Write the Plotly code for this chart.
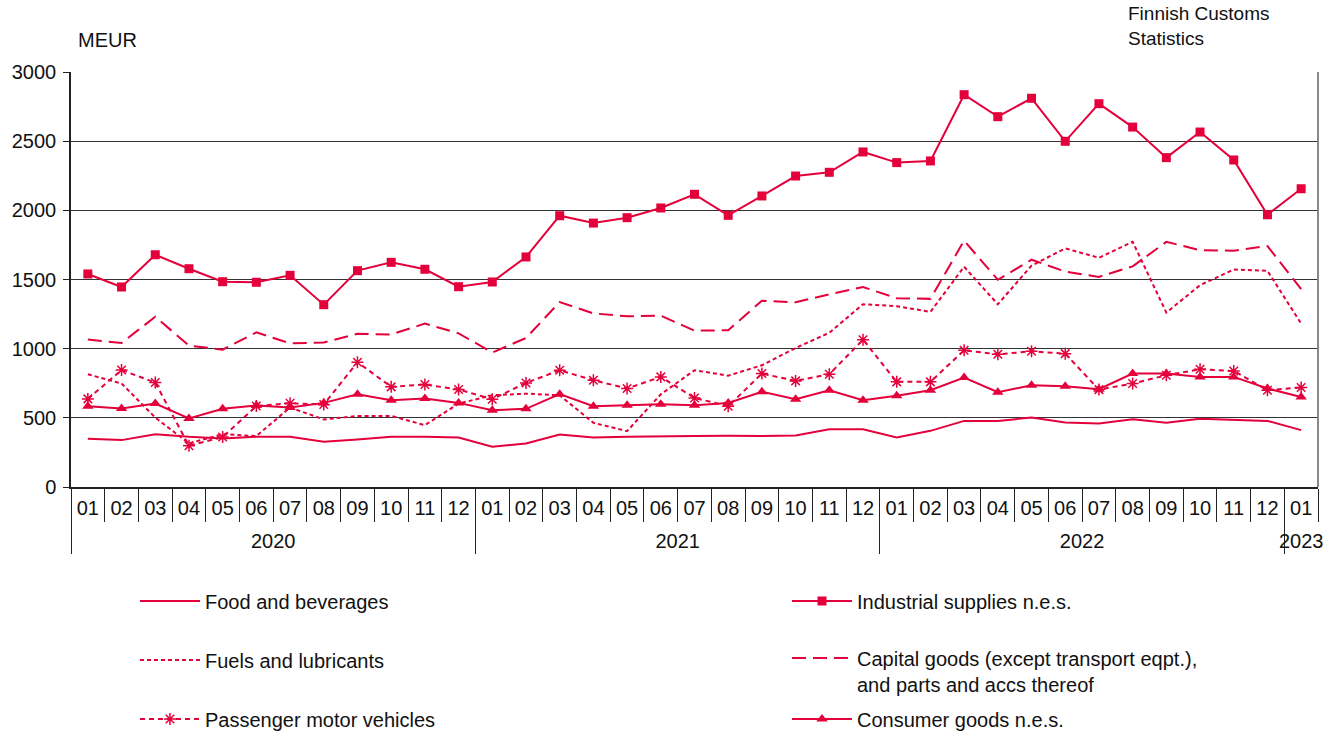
import plotly.graph_objects as go

months = ['01','02','03','04','05','06','07','08','09','10','11','12'] * 3 + ['01']
years = ['2020', '2021', '2022', '2023']
months_per_year = [12, 12, 12, 1]

food = [349,339,382,363,351,363,363,327,344,363,363,358,
        291,315,380,358,363,363,368,370,368,373,418,418,
        358,406,478,478,502,466,459,490,464,493,483,478,
        411]
industrial = [1540,1446,1679,1578,1484,1480,1530,1318,1564,1624,1574,1448,
              1482,1663,1961,1908,1947,2017,2116,1964,2104,2248,2275,2422,
              2345,2357,2836,2677,2810,2499,2771,2602,2381,2566,2364,1968,
              2156]
fuels = [815,748,502,315,382,368,575,488,514,514,447,603,
         663,675,663,464,404,670,844,805,880,1005,1115,1321,
         1307,1266,1592,1321,1600,1725,1657,1773,1261,1459,1572,1563,
         1181]
capital = [1066,1041,1231,1022,993,1118,1038,1044,1107,1103,1181,1111,
           972,1077,1337,1255,1234,1238,1130,1133,1347,1335,1393,1446,
           1365,1360,1781,1498,1643,1557,1519,1595,1772,1712,1708,1742,
           1430]
passenger = [637,846,755,298,361,585,605,596,902,724,741,705,
             635,752,844,772,712,796,644,584,820,767,815,1065,
             760,760,988,959,981,964,704,748,808,851,839,700,
             719]
consumer = [584,567,603,495,565,589,575,608,671,627,639,608,
            555,565,671,584,591,599,591,608,688,635,700,627,
            659,700,791,685,736,728,707,820,820,796,796,712,
            651]

names = ['Food and beverages', 'Industrial supplies n.e.s.', 'Fuels and lubricants',
         'Capital goods (except transport eqpt.),<br>and parts and accs thereof',
         'Passenger motor vehicles', 'Consumer goods n.e.s.']

RED = '#E4003A'
FONT = 'Liberation Sans, Arial, sans-serif'
FS = 20
TXT = '#111'

n = len(months)
xs = list(range(n))

starts = [sum(months_per_year[:i]) for i in range(len(months_per_year))]
year_centers = [s + (c - 1) / 2 for s, c in zip(starts, months_per_year)]
year_bounds = [s - 0.5 for s in starts]
month_bounds = [i - 0.5 for i in range(n + 1)]

series = [
    (food, 'solid', None, 'legend'),
    (industrial, 'solid', dict(symbol='square', size=9), 'legend2'),
    (fuels, '4px,3px', None, 'legend3'),
    (capital, '14px,7px', None, 'legend4'),
    (passenger, '5px,4px', dict(symbol='asterisk-open', size=10, line=dict(width=1.5, color=RED)), 'legend5'),
    (consumer, 'solid', dict(symbol='triangle-up', size=10), 'legend6'),
]

fig = go.Figure()
for (vals, dash, mk, lg), nm in zip(series, names):
    kw = dict(x=xs, y=vals, name=nm, legend=lg,
              line=dict(color=RED, width=2, dash=dash))
    if mk is None:
        kw['mode'] = 'lines'
    else:
        kw['mode'] = 'lines+markers'
        m = dict(color=RED)
        m.update(mk)
        kw['marker'] = m
    fig.add_trace(go.Scatter(**kw))

# empty helper trace so the year axis is drawn
fig.add_trace(go.Scatter(x=xs, y=[None] * n, xaxis='x2', mode='lines', showlegend=False,
                         hoverinfo='skip'))

L, R, T, B = 71, 17, 72, 246
W, H = 1335, 733
pw, ph = W - L - R, H - T - B

def px_to_paper_x(p):
    return (p - L) / pw

def px_to_paper_y(p):
    return 1 - (p - T) / ph

legend_pos = [(135, 601), (787, 601), (135, 660), (787, 671), (135, 719), (787, 719)]
legend_keys = ['legend', 'legend2', 'legend3', 'legend4', 'legend5', 'legend6']
legends = {}
for key, (lx, ly) in zip(legend_keys, legend_pos):
    legends[key] = dict(x=px_to_paper_x(lx), y=px_to_paper_y(ly), xanchor='left', yanchor='middle',
                        font=dict(family=FONT, size=FS, color=TXT), itemwidth=60,
                        valign='top',
                        bgcolor='rgba(0,0,0,0)', borderwidth=0, itemclick=False, itemdoubleclick=False)

xr = [-0.5, n - 0.5]
common_x = dict(range=xr, showgrid=False, zeroline=False, fixedrange=True)

fig.update_layout(
    width=W, height=H,
    margin=dict(l=L, r=R, t=T, b=B, pad=0, autoexpand=False),
    paper_bgcolor='white', plot_bgcolor='white',
    font=dict(family=FONT, size=FS, color=TXT),
    showlegend=True,
    hovermode=False,
    **legends,
    xaxis=dict(**common_x, showline=True, linecolor='#222', linewidth=1.5,
               tickmode='array', tickvals=xs, ticktext=months, ticks='',
               minor=dict(tickmode='array', tickvals=month_bounds, ticks='outside', ticklen=33,
                          tickcolor='#222', tickwidth=1, showgrid=False),
               tickfont=dict(family=FONT, size=FS, color=TXT), ticklabelstandoff=2),
    xaxis2=dict(**common_x, overlaying='x', anchor='y', side='bottom', showline=False,
                tickmode='array', tickvals=year_centers, ticktext=years, ticks='',
                minor=dict(tickmode='array', tickvals=year_bounds, ticks='outside', ticklen=66,
                           tickcolor='#222', tickwidth=1, showgrid=False),
                tickfont=dict(family=FONT, size=FS, color=TXT), ticklabelstandoff=40),
    yaxis=dict(range=[0, 3000], dtick=500, showgrid=True, gridcolor='#333', gridwidth=1,
               showline=True, linecolor='#222', linewidth=1.5, ticks='outside', ticklen=6,
               tickcolor='#222', tickfont=dict(family=FONT, size=FS, color=TXT),
               zeroline=False, ticklabelstandoff=3, fixedrange=True),
    annotations=[
        dict(text='MEUR', xref='paper', yref='paper', x=px_to_paper_x(76), y=px_to_paper_y(40),
             xanchor='left', yanchor='middle', showarrow=False, font=dict(family=FONT, size=FS, color=TXT)),
        dict(text='Finnish Customs<br>Statistics', xref='paper', yref='paper', x=px_to_paper_x(1126),
             y=px_to_paper_y(26), xanchor='left', yanchor='middle', align='left', showarrow=False,
             font=dict(family=FONT, size=FS - 1, color=TXT)),
    ],
    shapes=[dict(type='line', xref='paper', yref='paper', x0=1, x1=1, y0=0, y1=1,
                 line=dict(color='#888', width=2))],
)

fig.write_html('out.html', post_script="document.body.style.margin='0';",
               config={'displayModeBar': False})
